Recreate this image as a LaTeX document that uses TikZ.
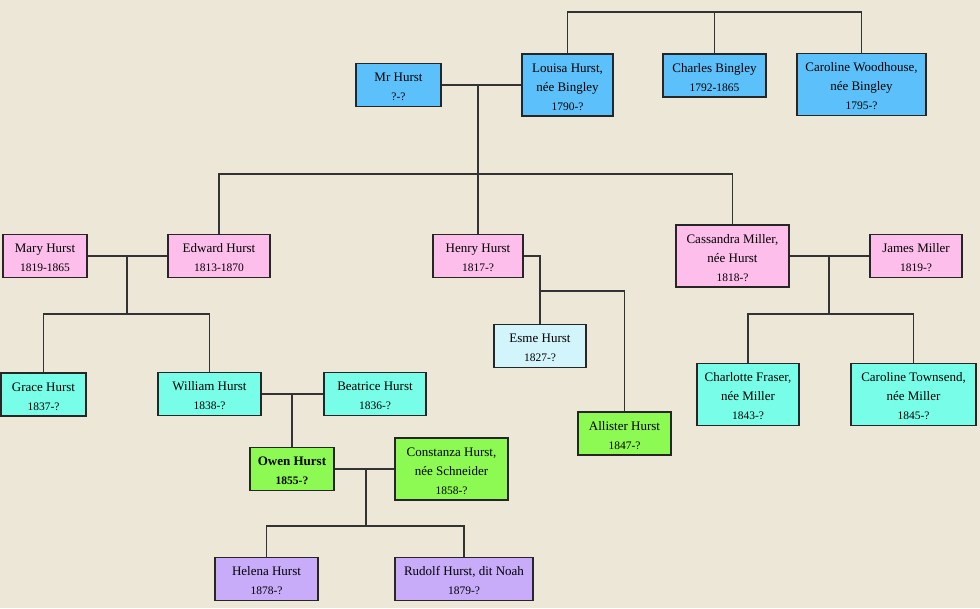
\documentclass[tikz,border=0pt]{standalone}
\usepackage{fontspec}
\setmainfont{Liberation Serif}
\definecolor{bgbeige}{RGB}{237,231,216}
\definecolor{cblue}{RGB}{92,192,250}
\definecolor{cpink}{RGB}{253,190,235}
\definecolor{caqua}{RGB}{120,254,232}
\definecolor{cpale}{RGB}{210,244,251}
\definecolor{cgreen}{RGB}{140,250,82}
\definecolor{cpurple}{RGB}{200,172,250}
\newcommand{\yrs}[1]{{\fontsize{11.5}{19}\selectfont #1}}
\newcommand{\tp}{\rule{0pt}{13pt}}
\tikzset{
  pers/.style={draw=black!85, line width=1.1pt, align=center, inner sep=1pt,
    font=\fontsize{13}{19}\selectfont},
  two/.style={minimum height=43pt},
  three/.style={minimum height=62pt},
  link/.style={draw=black!80, line width=1.2pt}
}
\begin{document}
\begin{tikzpicture}[x=1pt,y=-1pt]
\fill[bgbeige] (0,0) rectangle (980,608);
\useasboundingbox (0,0) rectangle (980,608);
% first generation
\node[pers, two, fill=cblue, minimum width=85pt] (mrhurst) at (398.5,85) {\tp Mr Hurst\\\yrs{?-?}};
\node[pers, three, fill=cblue, minimum width=91pt] (louisa) at (567.5,85) {\tp Louisa Hurst,\\née Bingley\\\yrs{1790-?}};
\node[pers, two, fill=cblue, minimum width=103pt] (charles) at (714.5,75.5) {\tp Charles Bingley\\\yrs{1792-1865}};
\node[pers, three, fill=cblue, minimum width=129pt] (caroline) at (861.5,84.5) {\tp Caroline Woodhouse,\\née Bingley\\\yrs{1795-?}};
% second generation
\node[pers, two, fill=cpink, minimum width=84pt] (mary) at (45,256) {\tp Mary Hurst\\\yrs{1819-1865}};
\node[pers, two, fill=cpink, minimum width=102pt] (edward) at (219,256) {\tp Edward Hurst\\\yrs{1813-1870}};
\node[pers, two, fill=cpink, minimum width=90pt] (henry) at (478,256) {\tp Henry Hurst\\\yrs{1817-?}};
\node[pers, three, fill=cpink, minimum width=113pt] (cassandra) at (732.5,256) {\tp Cassandra Miller,\\née Hurst\\\yrs{1818-?}};
\node[pers, two, fill=cpink, minimum width=92pt] (james) at (916,256) {\tp James Miller\\\yrs{1819-?}};
% third generation
\node[pers, two, fill=caqua, minimum width=85pt] (grace) at (43.5,394.5) {\tp Grace Hurst\\\yrs{1837-?}};
\node[pers, two, fill=caqua, minimum width=103pt] (william) at (209.5,394) {\tp William Hurst\\\yrs{1838-?}};
\node[pers, two, fill=caqua, minimum width=102pt] (beatrice) at (375,394) {\tp Beatrice Hurst\\\yrs{1836-?}};
\node[pers, two, fill=cpale, minimum width=92pt] (esme) at (540,346) {\tp Esme Hurst\\\yrs{1827-?}};
\node[pers, two, fill=cgreen, minimum width=93pt] (allister) at (624.5,433.5) {\tp Allister Hurst\\\yrs{1847-?}};
\node[pers, three, fill=caqua, minimum width=102pt] (charlotte) at (748,394.5) {\tp Charlotte Fraser,\\née Miller\\\yrs{1843-?}};
\node[pers, three, fill=caqua, minimum width=125pt] (townsend) at (913.5,394.5) {\tp Caroline Townsend,\\née Miller\\\yrs{1845-?}};
% fourth and fifth generation
\node[pers, two, fill=cgreen, minimum width=84pt, font=\fontsize{13}{19}\selectfont\bfseries] (owen) at (292,469) {\tp Owen Hurst\\\yrs{1855-?}};
\node[pers, three, fill=cgreen, minimum width=113pt] (constanza) at (451.5,469) {\tp Constanza Hurst,\\née Schneider\\\yrs{1858-?}};
\node[pers, two, fill=cpurple, minimum width=103pt] (helena) at (266.5,579) {\tp Helena Hurst\\\yrs{1878-?}};
\node[pers, two, fill=cpurple, minimum width=138pt] (rudolf) at (464,579) {\tp Rudolf Hurst, dit Noah\\\yrs{1879-?}};
% connectors
\coordinate (top) at (0,12);
\draw[link] (louisa.north) -- (louisa.north |- top) -- (caroline.north |- top) -- (caroline.north);
\draw[link] (charles.north) -- (charles.north |- top);
\draw[link] (mrhurst.east) -- (louisa.west);
\coordinate (m1) at (478,85);
\coordinate (f1) at (0,174);
\draw[link] (m1) -- (henry.north);
\draw[link] (edward.north) -- (edward.north |- f1) -- (cassandra.north |- f1) -- (cassandra.north);
\draw[link] (mary.east) -- (edward.west);
\coordinate (m2) at (127,256);
\coordinate (f2) at (0,314);
\draw[link] (m2) -- (m2 |- f2);
\draw[link] (grace.north) -- (grace.north |- f2) -- (william.north |- f2) -- (william.north);
\coordinate (f3) at (0,291);
\draw[link] (henry.east) -| (esme.north);
\draw[link] (esme.north |- f3) -| (allister.north);
\draw[link] (cassandra.east) -- (james.west);
\coordinate (m3) at (829,256);
\draw[link] (m3) -- (m3 |- f2);
\draw[link] (charlotte.north) -- (charlotte.north |- f2) -- (townsend.north |- f2) -- (townsend.north);
\draw[link] (william.east) -- (beatrice.west);
\draw[link] (owen.north |- william.east) -- (owen.north);
\draw[link] (owen.east) -- (constanza.west);
\coordinate (m4) at (366,469);
\coordinate (f4) at (0,526);
\draw[link] (m4) -- (m4 |- f4);
\draw[link] (helena.north) -- (helena.north |- f4) -- (rudolf.north |- f4) -- (rudolf.north);
\end{tikzpicture}
\end{document}
